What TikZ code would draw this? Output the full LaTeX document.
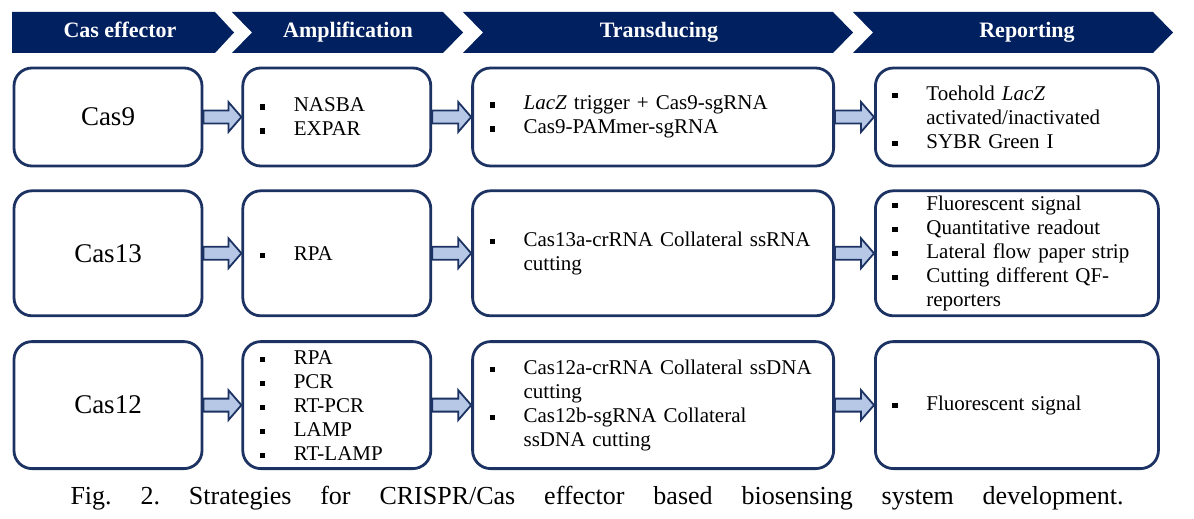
\documentclass[tikz,border=0pt]{standalone}
\usepackage{fontspec}
\setmainfont{Liberation Serif}
\usetikzlibrary{calc,positioning}
\definecolor{navy}{RGB}{0,32,96}
\definecolor{boxline}{RGB}{28,50,98}
\definecolor{arrowfill}{RGB}{182,200,230}
\newcommand{\bul}{\hspace*{17pt}\makebox[34pt][l]{\rule[2pt]{5.5pt}{5.5pt}}}
\newcommand{\cont}{\hspace*{51pt}}
\tikzset{
chevron/.style={fill=navy},
headtext/.style={text=white,font=\fontsize{22}{26}\selectfont\bfseries,
    text height=15pt,text depth=5pt},
effector/.style={draw=boxline,line width=2.8pt,rounded corners=18pt,
    minimum width=188pt,font=\fontsize{27}{32}\selectfont},
listbox/.style={draw=boxline,line width=2.8pt,rounded corners=18pt,
    inner xsep=0pt,inner ysep=2pt,align=left,font=\fontsize{21}{24}\selectfont},
amp/.style={listbox,text width=188pt},
trans/.style={listbox,text width=361pt},
report/.style={listbox,text width=283pt},
row one/.style={minimum height=98pt},
row two/.style={minimum height=125pt},
row three/.style={minimum height=127pt},
flow/.style={draw=boxline,line width=1.8pt,fill=arrowfill,line join=miter,
    to path={($(\tikztostart.east)+(0pt,6.5pt)$)
    -- ($(\tikztotarget.west)+(-13pt,6.5pt)$) -- ($(\tikztotarget.west)+(-13pt,15pt)$)
    -- (\tikztotarget.west)
    -- ($(\tikztotarget.west)+(-13pt,-15pt)$) -- ($(\tikztotarget.west)+(-13pt,-6.5pt)$)
    -- ($(\tikztostart.east)+(0pt,-6.5pt)$) -- cycle}},
}

\begin{document}
\begin{tikzpicture}[x=1pt,y=-1pt]
    \useasboundingbox (0,0) rectangle (1194,519);

    \fill[chevron] (12,12) -- (215,12) -- (234,32.5) -- (215,53) -- (12,53) -- cycle;
    \foreach \l/\r in {232/443,463/833,853/1153}
        \fill[chevron] (\l,12) -- (\r,12) -- (\r+20,32.5) -- (\r,53) -- (\l,53) -- (\l+20,32.5) -- cycle;
    \node[headtext] (h1) at (120,32.5) {Cas effector};
    \node[headtext] (h2) at (348,32.5) {Amplification};
    \node[headtext] (h3) at (659,32.5) {Transducing};
    \node[headtext] (h4) at (1027,32.5) {Reporting};

    \node[effector,row one] (c9) at (108,117) {Cas9};
    \node[amp,row one,right=38pt of c9] (a9) {\bul NASBA\\ \bul EXPAR};
    \node[trans,row one,right=39pt of a9] (t9) {\bul \textit{LacZ} trigger + Cas9-sgRNA\\
        \bul Cas9-PAMmer-sgRNA};
    \node[report,row one,right=39pt of t9] (r9) {\bul Toehold \textit{LacZ}\\
        \cont activated/inactivated\\ \bul SYBR Green I};

    \node[effector,row two,below=22pt of c9] (c13) {Cas13};
    \node[amp,row two,right=38pt of c13] (a13) {\bul RPA};
    \node[trans,row two,right=39pt of a13] (t13) {\bul Cas13a-crRNA Collateral ssRNA\\
        \cont cutting};
    \node[report,row two,right=39pt of t13] (r13) {\bul Fluorescent signal\\
        \bul Quantitative readout\\ \bul Lateral flow paper strip\\
        \bul Cutting different QF-\\ \cont reporters};

    \node[effector,row three,below=23pt of c13] (c12) {Cas12};
    \node[amp,row three,right=38pt of c12] (a12) {\bul RPA\\ \bul PCR\\ \bul RT-PCR\\
        \bul LAMP\\ \bul RT-LAMP};
    \node[trans,row three,right=39pt of a12] (t12) {\bul Cas12a-crRNA Collateral ssDNA\\
        \cont cutting\\ \bul Cas12b-sgRNA Collateral\\ \cont ssDNA cutting};
    \node[report,row three,right=39pt of t12] (r12) {\bul Fluorescent signal};

    \path
        (c9) edge[flow] (a9)
        (a9) edge[flow] (t9)
        (t9) edge[flow] (r9)
        (c13) edge[flow] (a13)
        (a13) edge[flow] (t13)
        (t13) edge[flow] (r13)
        (c12) edge[flow] (a12)
        (a12) edge[flow] (t12)
        (t12) edge[flow] (r12)
    ;

    \node[font=\fontsize{26}{30}\selectfont] (cap) at (597,498)
        {\frenchspacing\makebox[1053pt][s]{Fig. 2. Strategies for CRISPR/Cas effector based biosensing system development.}};
\end{tikzpicture}
\end{document}
